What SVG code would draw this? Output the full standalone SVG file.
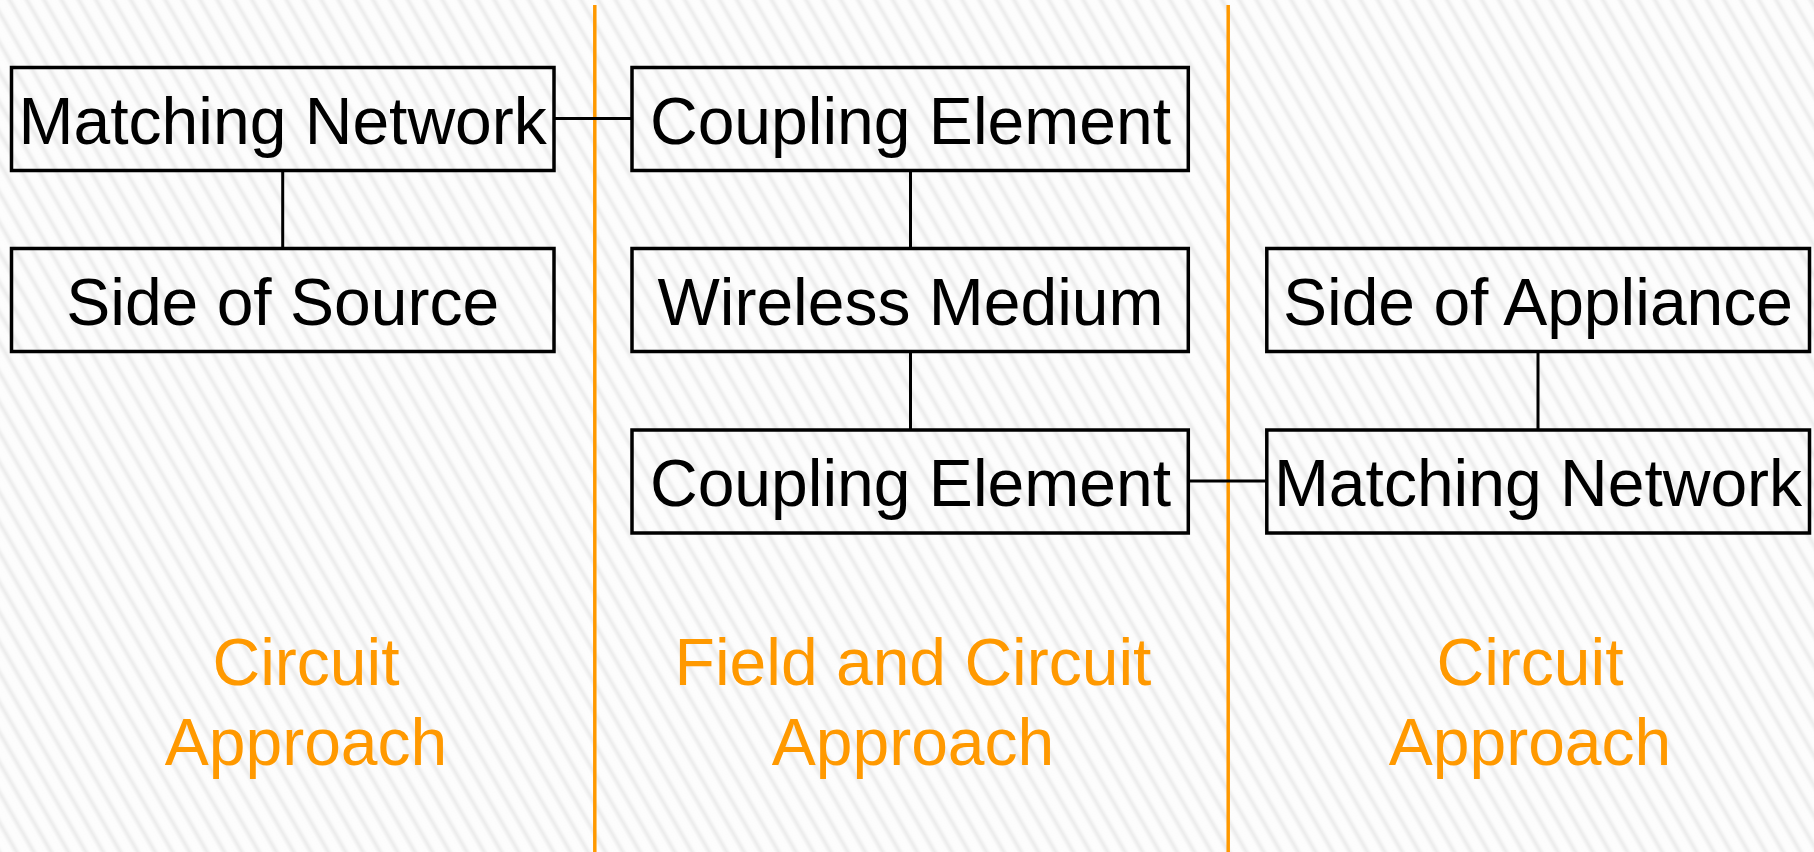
<svg xmlns="http://www.w3.org/2000/svg" width="1814" height="852" viewBox="0 0 1814 852">
<defs>
<linearGradient id="stripeGrad" x1="0" y1="0" x2="1" y2="0">
<stop offset="0" stop-color="#fdfdfd"/>
<stop offset="0.3" stop-color="#fcfcfc"/>
<stop offset="0.55" stop-color="#ebebeb"/>
<stop offset="0.8" stop-color="#fcfcfc"/>
<stop offset="1" stop-color="#fdfdfd"/>
</linearGradient>
<pattern id="stripes" patternUnits="userSpaceOnUse" width="15" height="40" patternTransform="rotate(-30)">
<rect x="0" y="0" width="15" height="40" fill="url(#stripeGrad)"/>
</pattern>
<style>
.box{fill:none;stroke:#000;stroke-width:3.5}
.lbl{font-family:"Liberation Sans",Arial,sans-serif;font-size:66px;fill:#000;text-anchor:middle}
.app{font-family:"Liberation Sans",Arial,sans-serif;font-size:66px;fill:#FF9900;text-anchor:middle}
.conn{stroke:#000;stroke-width:3;fill:none}
.div{stroke:#FF9900;stroke-width:3.5}
</style>
</defs>
<rect x="0" y="0" width="1814" height="852" fill="url(#stripes)"/>
<g id="dividers">
<line class="div" x1="594.8" y1="5" x2="594.8" y2="852"/>
<line class="div" x1="1228.2" y1="5" x2="1228.2" y2="852"/>
</g>
<g id="connectors">
<line class="conn" x1="282.7" y1="170.5" x2="282.7" y2="248.5"/>
<line class="conn" x1="554" y1="118.5" x2="632" y2="118.5"/>
<line class="conn" x1="910.5" y1="170.5" x2="910.5" y2="248.5"/>
<line class="conn" x1="910.5" y1="351.5" x2="910.5" y2="430"/>
<line class="conn" x1="1188.3" y1="481" x2="1266.8" y2="481"/>
<line class="conn" x1="1538" y1="351.5" x2="1538" y2="430"/>
</g>
<g id="matching-network-source">
<rect class="box" x="11.5" y="67.5" width="542.5" height="103"/>
<text class="lbl" x="282.7" y="143.5">Matching Network</text>
</g>
<g id="side-of-source">
<rect class="box" x="11.5" y="248.5" width="542.5" height="103"/>
<text class="lbl" x="282.7" y="325">Side of Source</text>
</g>
<g id="coupling-element-top">
<rect class="box" x="632" y="67.5" width="556.3" height="103"/>
<text class="lbl" x="910.5" y="143.5">Coupling Element</text>
</g>
<g id="wireless-medium">
<rect class="box" x="632" y="248.5" width="556.3" height="103"/>
<text class="lbl" x="910.5" y="325">Wireless Medium</text>
</g>
<g id="coupling-element-bottom">
<rect class="box" x="632" y="430" width="556.3" height="103"/>
<text class="lbl" x="910.5" y="505.5">Coupling Element</text>
</g>
<g id="side-of-appliance">
<rect class="box" x="1266.8" y="248.5" width="542.7" height="103"/>
<text class="lbl" x="1538" y="325">Side of Appliance</text>
</g>
<g id="matching-network-appliance">
<rect class="box" x="1266.8" y="430" width="542.7" height="103"/>
<text class="lbl" x="1538" y="505.5">Matching Network</text>
</g>
<g id="approach-labels">
<text class="app" x="306" y="685">Circuit</text>
<text class="app" x="306" y="765">Approach</text>
<text class="app" x="913" y="685">Field and Circuit</text>
<text class="app" x="913" y="765">Approach</text>
<text class="app" x="1530" y="685">Circuit</text>
<text class="app" x="1530" y="765">Approach</text>
</g>
</svg>
